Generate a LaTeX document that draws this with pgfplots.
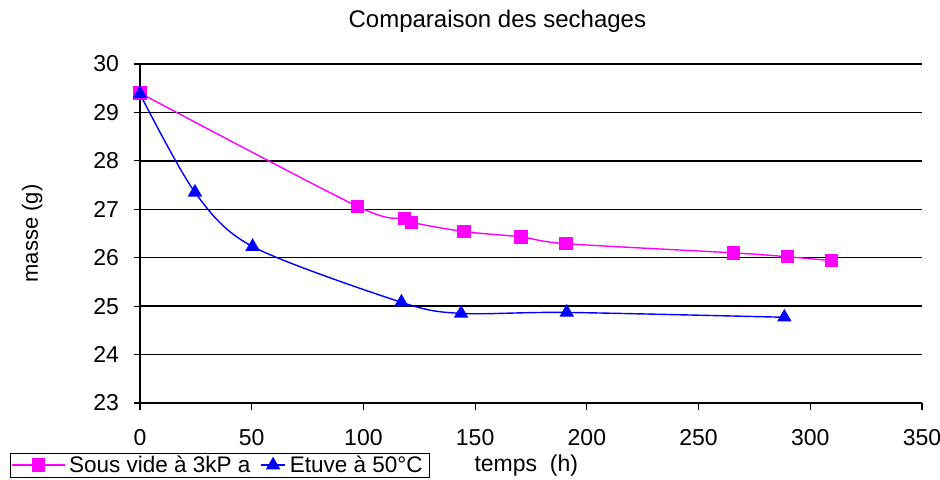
\documentclass[border=0pt]{standalone}
\usepackage{pgfplots}
\pgfplotsset{compat=1.18}
\usepackage{fontspec}
\setmainfont{Liberation Sans}
\definecolor{mag}{RGB}{255,0,255}
\definecolor{blu}{RGB}{0,0,255}
\begin{document}
\begin{tikzpicture}
\useasboundingbox (0,0) rectangle (940bp,480bp);
\begin{axis}[
  at={(140bp,77bp)}, anchor=origin,
  scale only axis, width=782bp, height=339bp,
  xmin=0, xmax=350, ymin=23, ymax=30,
  xtick={0,50,...,350}, ytick={23,...,30},
  axis x line=bottom, axis y line=left,
  axis line style={-, black, line width=1.3bp},
  x tick style={black, line width=1.2bp}, y tick style={black, line width=1.2bp},
  xtick align=outside, ytick align=center,
  major tick length=13bp,
  xtick style={/pgfplots/major tick length=7bp},
  ymajorgrids, grid style={black, line width=1.3bp},
  tick label style={font=\fontsize{23bp}{25bp}\selectfont},
  /pgf/number format/assume math mode=true,
  xticklabel style={yshift=-10bp},
  yticklabel style={xshift=-11bp},
  title={Comparaison des sechages},
  title style={at={(0.457,1.109)}, anchor=center, font=\fontsize{24bp}{26bp}\selectfont},
  xlabel={temps\ \ (h)},
  xlabel style={at={(0.494,-0.185)}, anchor=center, font=\fontsize{23bp}{25bp}\selectfont},
  ylabel={masse (g)},
  ylabel style={at={(-0.138,0.5)}, anchor=center, rotate=0, font=\fontsize{22bp}{24bp}\selectfont},
  legend columns=2,
  legend style={at={(-0.1662,-0.2206)}, anchor=south west, draw=black, line width=1.2bp,
    font=\fontsize{22.5bp}{24bp}\selectfont, inner sep=1bp,
    nodes={inner sep=2bp}},
  legend cell align=left,
  clip=false,
]
\addplot[mag, line width=1.4bp, smooth, tension=0.5, mark=square*, mark size=6bp, mark options={solid, fill=mag, draw=mag},
  legend image code/.code={\draw[line width=1.4bp, mark repeat=2,mark phase=2] plot coordinates {(0bp,0bp) (26bp,0bp) (52bp,0bp)};}] coordinates {
(0,29.4) (97.3,27.06) (118.3,26.81) (121.4,26.73) (145,26.54) (170.5,26.43) (190.6,26.29) (265.6,26.10) (289.7,26.02) (309.4,25.94)};
\addlegendentry{\rule{2bp}{0pt}Sous vide à 3kP a\rule{8bp}{0pt}}
\addplot[blu, line width=1.4bp, smooth, tension=0.5, mark=triangle*, mark size=7bp, mark options={solid, fill=blu, draw=blu},
  legend image code/.code={\draw[line width=1.4bp, mark repeat=2,mark phase=2] plot coordinates {(0bp,0bp) (12bp,0bp) (24bp,0bp)};}] coordinates {
(0,29.38) (24.6,27.35) (50.4,26.23) (117,25.08) (143.7,24.85) (191,24.87) (288.4,24.77)};
\addlegendentry{\rule{2bp}{0pt}Etuve à 50°C\rule{4bp}{0pt}}
\end{axis}
\end{tikzpicture}
\end{document}
